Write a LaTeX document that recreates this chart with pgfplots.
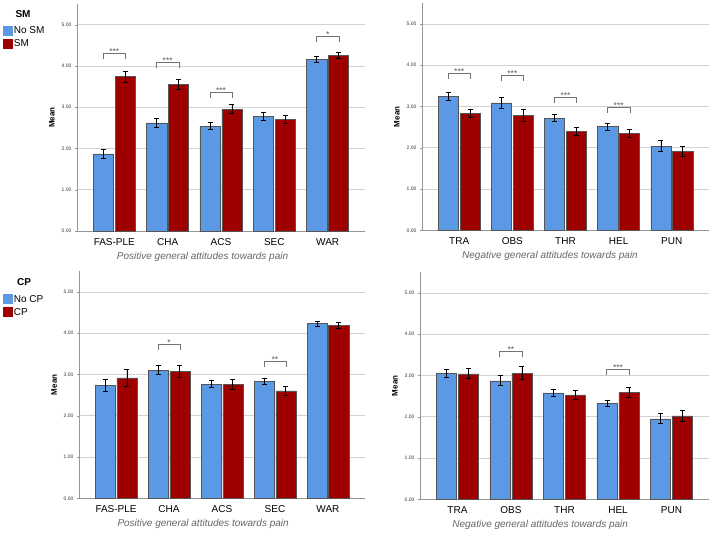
\documentclass[border=0pt]{standalone}
\usepackage{fontspec}
\setmainfont{Liberation Sans}
\usepackage{pgfplots}
\usepackage{pgfplotstable}
\pgfplotsset{compat=1.18}
\definecolor{cblue}{RGB}{91,153,229}
\definecolor{cred}{RGB}{158,0,0}
\definecolor{edge}{RGB}{85,85,85}
\definecolor{axgray}{RGB}{150,150,150}

\pgfplotstableread{
x b be r re
0 1.87 0.11 3.74 0.13
1 2.62 0.11 3.56 0.12
2 2.54 0.09 2.95 0.11
3 2.78 0.10 2.70 0.10
4 4.16 0.08 4.25 0.07
}\smpos
\pgfplotstableread{
x b be r re
0 3.24 0.10 2.83 0.10
1 3.09 0.13 2.78 0.14
2 2.72 0.09 2.40 0.09
3 2.51 0.09 2.35 0.10
4 2.04 0.14 1.91 0.13
}\smneg
\pgfplotstableread{
x b be r re
0 2.74 0.15 2.92 0.21
1 3.10 0.11 3.08 0.15
2 2.76 0.085 2.76 0.12
3 2.83 0.08 2.60 0.11
4 4.23 0.065 4.19 0.077
}\cppos
\pgfplotstableread{
x b be r re
0 3.05 0.09 3.04 0.12
1 2.87 0.12 3.06 0.16
2 2.58 0.08 2.53 0.12
3 2.33 0.07 2.59 0.12
4 1.95 0.12 2.02 0.14
}\cpneg

\pgfplotsset{
 panel/.style={
  scale only axis, height=227pt, ymin=0, ymax=5.5, xmin=-0.7, xmax=4.7,
  axis lines=left, axis line style={axgray, -, line width=0.8pt},
  ytick={0,1,2,3,4,5}, yticklabels={0.00,1.00,2.00,3.00,4.00,5.00},
  yticklabel style={font=\fontsize{5}{6}\selectfont, text=black!80},
  ymajorgrids, grid style={gray!35, line width=0.6pt},
  xtick={0,1,2,3,4}, xtick style={draw=none},
  ytick style={axgray}, major tick length=2pt, tick align=outside,
  xticklabel style={font=\fontsize{10}{12}\selectfont, yshift=-2pt},
  ylabel={\textbf{Mean}},
  ylabel style={font=\fontsize{8}{9}\selectfont, at={(axis description cs:-0.087,0.5)}, anchor=center},
  xlabel style={font=\fontsize{10}{12}\selectfont\itshape, text=black!60, anchor=center},
  clip=false,
  legend style={draw=none, fill=none, inner sep=0pt, anchor=north west,
    font=\fontsize{10}{12}\selectfont, row sep=2.5pt, column sep=0pt,
    nodes={inner sep=1pt}},
  legend cell align=left,
  legend image code/.code={\fill[##1, draw=none] (0pt,-5pt) rectangle (10pt,5pt);},
 },
 bars/.style={ybar, bar width=0.38, bar shift=0pt, draw=edge, line width=0.5pt,
   error bars/.cd, y dir=both, y explicit, error bar style={black, line width=0.8pt},
   error mark options={rotate=90, black, mark size=2.5pt, line width=0.8pt}},
 bluebars/.style={fill=cblue, bars},
 redbars/.style={fill=cred, bars},
 brk/.style={black!55, line width=0.6pt, forget plot},
}
\tikzset{stars/.style={font=\fontsize{8.5}{9}\selectfont, text=black!65, anchor=base, inner sep=0pt, yshift=-1.2pt}}

\begin{document}
\begin{tikzpicture}
\useasboundingbox (0,0) rectangle (709pt,534pt);

% Top left
\begin{axis}[panel, at={(77pt,303pt)}, anchor=south west, width=288pt,
  xticklabels={FAS-PLE,CHA,ACS,SEC,WAR},
  xlabel={Positive general attitudes towards pain},
  xlabel style={at={(axis description cs:0.436,-0.115)}},
  legend style={at={(axis description cs:-0.258,0.906)}},
  legend entries={No SM,SM}]
\addplot[bluebars] table[x expr=\thisrow{x}-0.205,y=b,y error=be]{\smpos};
\addplot[redbars] table[x expr=\thisrow{x}+0.205,y=r,y error=re]{\smpos};
\addplot[brk] coordinates {(-0.21,4.16) (-0.21,4.30) (0.21,4.30) (0.21,4.16)};
\addplot[brk] coordinates {(0.79,3.94) (0.79,4.08) (1.21,4.08) (1.21,3.94)};
\addplot[brk] coordinates {(1.79,3.23) (1.79,3.37) (2.21,3.37) (2.21,3.23)};
\addplot[brk] coordinates {(3.79,4.57) (3.79,4.71) (4.21,4.71) (4.21,4.57)};
\node[stars] at (axis cs:0,4.30) {***};
\node[stars] at (axis cs:1,4.08) {***};
\node[stars] at (axis cs:2,3.37) {***};
\node[stars] at (axis cs:4,4.71) {*};
\node[font=\fontsize{10}{12}\selectfont\bfseries, anchor=center] at (axis description cs:-0.1875,0.956) {SM};
\end{axis}

% Top right
\begin{axis}[panel, at={(422pt,303.7pt)}, anchor=south west, width=287pt,
  xticklabels={TRA,OBS,THR,HEL,PUN},
  xlabel={Negative general attitudes towards pain},
  xlabel style={at={(axis description cs:0.446,-0.115)}}]
\addplot[bluebars] table[x expr=\thisrow{x}-0.205,y=b,y error=be]{\smneg};
\addplot[redbars] table[x expr=\thisrow{x}+0.205,y=r,y error=re]{\smneg};
\addplot[brk] coordinates {(-0.21,3.67) (-0.21,3.81) (0.21,3.81) (0.21,3.67)};
\addplot[brk] coordinates {(0.79,3.62) (0.79,3.76) (1.21,3.76) (1.21,3.62)};
\addplot[brk] coordinates {(1.79,3.08) (1.79,3.22) (2.21,3.22) (2.21,3.08)};
\addplot[brk] coordinates {(2.79,2.85) (2.79,2.99) (3.21,2.99) (3.21,2.85)};
\node[stars] at (axis cs:0,3.81) {***};
\node[stars] at (axis cs:1,3.76) {***};
\node[stars] at (axis cs:2,3.22) {***};
\node[stars] at (axis cs:3,2.99) {***};
\end{axis}

% Bottom left
\begin{axis}[panel, at={(79pt,35.7pt)}, anchor=south west, width=286pt,
  xticklabels={FAS-PLE,CHA,ACS,SEC,WAR},
  xlabel={Positive general attitudes towards pain},
  xlabel style={at={(axis description cs:0.434,-0.115)}},
  legend style={at={(axis description cs:-0.267,0.90)}},
  legend entries={No CP,CP}]
\addplot[bluebars] table[x expr=\thisrow{x}-0.205,y=b,y error=be]{\cppos};
\addplot[redbars] table[x expr=\thisrow{x}+0.205,y=r,y error=re]{\cppos};
\addplot[brk] coordinates {(0.79,3.59) (0.79,3.73) (1.21,3.73) (1.21,3.59)};
\addplot[brk] coordinates {(2.79,3.18) (2.79,3.32) (3.21,3.32) (3.21,3.18)};
\node[stars] at (axis cs:1,3.73) {*};
\node[stars] at (axis cs:3,3.32) {**};
\node[font=\fontsize{10}{12}\selectfont\bfseries, anchor=center] at (axis description cs:-0.192,0.954) {CP};
\end{axis}

% Bottom right
\begin{axis}[panel, at={(420pt,34.7pt)}, anchor=south west, width=289pt,
  xticklabels={TRA,OBS,THR,HEL,PUN},
  xlabel={Negative general attitudes towards pain},
  xlabel style={at={(axis description cs:0.416,-0.115)}}]
\addplot[bluebars] table[x expr=\thisrow{x}-0.205,y=b,y error=be]{\cpneg};
\addplot[redbars] table[x expr=\thisrow{x}+0.205,y=r,y error=re]{\cpneg};
\addplot[brk] coordinates {(0.79,3.44) (0.79,3.58) (1.21,3.58) (1.21,3.44)};
\addplot[brk] coordinates {(2.79,3.01) (2.79,3.15) (3.21,3.15) (3.21,3.01)};
\node[stars] at (axis cs:1,3.58) {**};
\node[stars] at (axis cs:3,3.15) {***};
\end{axis}
\end{tikzpicture}
\end{document}
